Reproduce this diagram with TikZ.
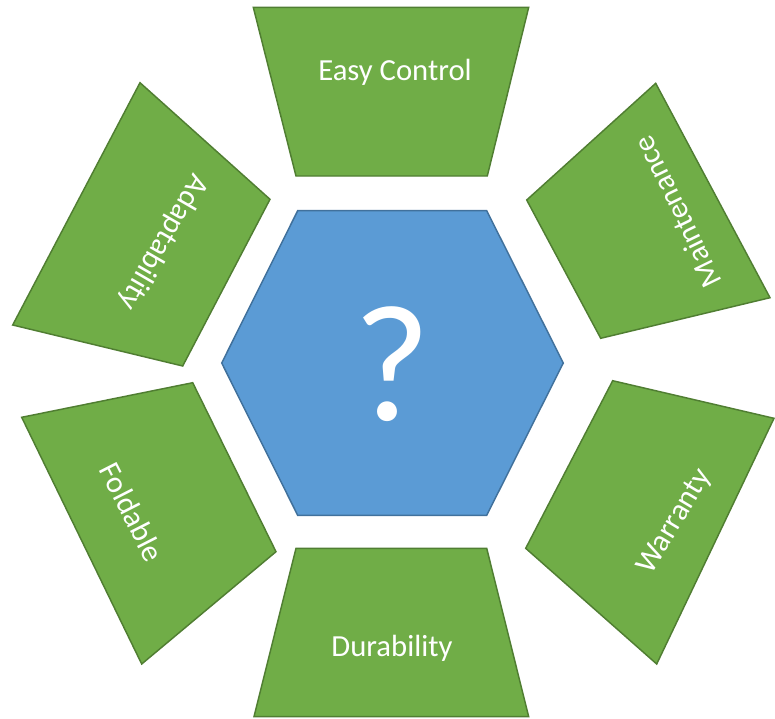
\documentclass[tikz,border=0pt]{standalone}
\usepackage{fontspec}
\setmainfont{Carlito}
\usepackage{tikz}
\usetikzlibrary{positioning}

\definecolor{petalfill}{HTML}{70AD47}
\definecolor{petalrim}{HTML}{507E32}
\definecolor{corefill}{HTML}{5B9BD5}
\definecolor{corerim}{HTML}{41719C}

\begin{document}
\begin{tikzpicture}[x=0.75pt, y=-0.75pt,
    petal/.style={draw=petalrim, fill=petalfill, line width=1.1pt, line join=miter},
    core/.style={draw=corerim, fill=corefill, line width=1.1pt, line join=miter},
    tag/.style={text=white, inner sep=0pt, font=\fontsize{23}{27}\selectfont}
  ]
  \useasboundingbox (0,0) rectangle (775,718);

  % Central hexagon
  \draw[core] (221.7,363) -- (297.7,210.7) -- (486.7,210.7) -- (563.3,363)
    -- (486.7,515.3) -- (297.7,515.3) -- cycle;
  \node[text=white, inner sep=0pt, font=\fontsize{125}{130}\selectfont] (quest) at (392,364) {?};

  % Surrounding trapezoids (clockwise from top)
  \draw[petal] (253.3,7.3) -- (528.7,7.3) -- (487.3,176) -- (296,176) -- cycle;
  \draw[petal] (655.7,83.3) -- (770,297.7) -- (600.7,338.3) -- (526.7,200) -- cycle;
  \draw[petal] (612.7,380.7) -- (774,418.3) -- (656.7,664) -- (525.7,548.3) -- cycle;
  \draw[petal] (296,548.3) -- (486.7,548.3) -- (528.7,716.7) -- (254,716.7) -- cycle;
  \draw[petal] (21.7,417.3) -- (192.7,382.7) -- (276,551.7) -- (141.7,664) -- cycle;
  \draw[petal] (140,82.7) -- (270,199.3) -- (182.7,366) -- (12.7,325) -- cycle;

  % Labels
  \node[tag] (control) at (395,72) {Easy Control};
  \node[tag, rotate=116] (maint) at (677,212) {Maintenance};
  \node[tag, rotate=59] (warranty) at (675,522) {Warranty};
  \node[tag] (durab) at (392,648) {Durability};
  \node[tag, rotate=-63] (fold) at (132,512) {Foldable};
  \node[tag, rotate=-120] (adapt) at (163,242) {Adaptability};
\end{tikzpicture}
\end{document}
